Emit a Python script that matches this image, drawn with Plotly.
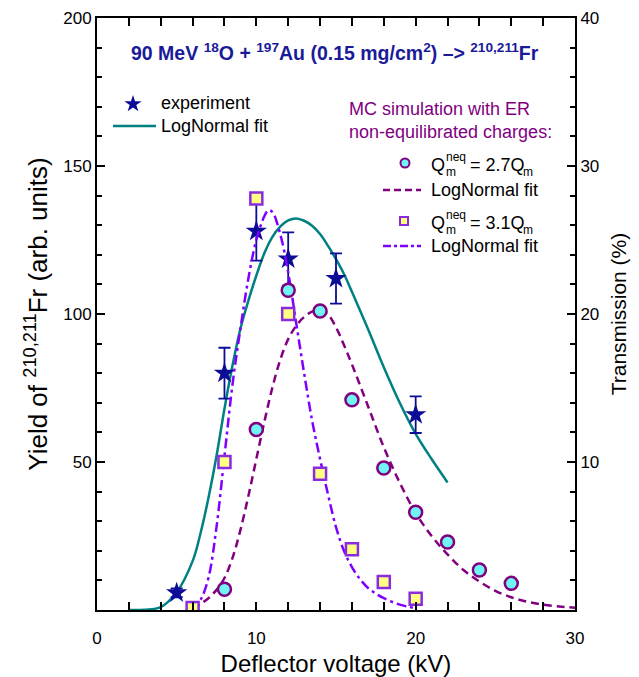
import plotly.graph_objects as go

# ---------------- data ----------------
exp_x = [5, 8, 10, 12, 15, 20]
exp_y = [5.8, 80, 128, 118.6, 112, 66]
exp_err = [1.5, 8.6, 10, 9, 8.5, 6.2]

# LogNormal fit to experiment (yield, left axis)
fit_exp_x = [2.0, 3.0, 4.0, 5.0, 6.0, 6.5, 7.0, 7.5, 8.0, 8.5, 9.0, 9.5, 10.0, 10.5, 11.0, 11.5, 12.0, 12.5,
             13.0, 13.5, 14.0, 14.5, 15.0, 15.5, 16.0, 17.0, 18.0, 19.0, 20.0, 21.0, 22.0]
fit_exp_y = [0, 0.1, 1.0, 6.0, 16.5, 26, 38, 52, 68, 82.5, 95, 104.5, 113, 120.5, 126, 129.5, 131.6, 132.3,
             131.5, 129.8, 127, 123, 118.5, 113.5, 107.5, 95, 82, 70, 59.5, 51, 43.1]

# MC simulation Q = 2.7 Qm (transmission %, right axis)
mc27_x = [8, 10, 12, 14, 16, 18, 20, 22, 24, 26]
mc27_y = [1.4, 12.2, 21.6, 20.2, 14.2, 9.6, 6.6, 4.6, 2.7, 1.8]
fit27_x = [6.0, 6.5, 7.0, 7.5, 8.0, 8.5, 9.0, 9.5, 10.0, 10.5, 11.0, 11.5, 12.0, 12.5, 13.0, 13.5, 14.0, 14.5,
           15.0, 15.5, 16.0, 17.0, 18.0, 19.0, 20.0, 21.0, 22.0, 23.0, 24.0, 25.0, 26.0, 27.0, 28.0, 29.0, 30.0]
fit27_y = [0.06, 0.4, 0.8, 1.36, 2.16, 3.5, 5.4, 7.7, 10.2, 12.7, 15.0, 16.9, 18.3, 19.2, 19.8, 20.16, 20.26, 19.96,
           19.1, 17.9, 16.6, 13.8, 11.0, 8.6, 6.56, 5.0, 3.76, 2.7, 1.92, 1.3, 0.86, 0.56, 0.36, 0.24, 0.16]

# MC simulation Q = 3.1 Qm (transmission %, right axis)
mc31_x = [6, 8, 10, 12, 14, 16, 18, 20]
mc31_y = [0.14, 10.0, 27.8, 20.0, 9.2, 4.1, 1.9, 0.76]
fit31_x = [5.9, 6.5, 7.0, 7.5, 8.0, 8.5, 9.0, 9.5, 10.0, 10.5, 10.75, 11.0, 11.5, 12.0, 12.5, 13.0, 13.5, 14.0,
           14.5, 15.0, 15.5, 16.0, 16.5, 17.0, 17.5, 18.0, 19.0, 20.0]
fit31_y = [0.0, 0.7, 2.2, 5.6, 10.4, 15.2, 19.0, 22.4, 25.0, 26.6, 27.0, 26.9, 25.4, 22.8, 19.4, 16.0, 12.8, 10.2,
           7.8, 5.6, 4.0, 2.9, 2.1, 1.5, 1.1, 0.8, 0.36, 0.12]

x_ticks = [0, 10, 20, 30]
y_ticks = [50, 100, 150, 200]
y2_ticks = [10, 20, 30, 40]

# ---------------- style ----------------
NAVY = "#0c0c96"
TEAL = "#008080"
PURPLE = "#800080"
VIOLET = "#8a2be2"
VIOLET_LINE = "#8000ff"
CYAN = "#70f4f4"
YELLOW = "#ffff80"
FONT = "Liberation Sans, Arial, sans-serif"

W, H = 639, 677
L, R, T, B = 97, 64, 18, 67
PW, PH = W - L - R, H - T - B


def px(x):
    return (x - L) / PW


def py(y):
    return (H - B - y) / PH


fig = go.Figure()

fig.add_trace(go.Scatter(x=fit_exp_x, y=fit_exp_y, mode="lines",
                         line=dict(color=TEAL, width=2.5, shape="spline", smoothing=1.0),
                         xaxis="x", yaxis="y", hoverinfo="skip"))
fig.add_trace(go.Scatter(x=exp_x, y=exp_y, mode="markers",
                         marker=dict(symbol="star", size=16, color=NAVY, line=dict(width=0)),
                         error_y=dict(type="data", array=exp_err, color=NAVY, thickness=1.8, width=6),
                         xaxis="x", yaxis="y"))
fig.add_trace(go.Scatter(x=fit27_x, y=fit27_y, mode="lines",
                         line=dict(color=PURPLE, width=2.5, dash="8px,5px", shape="spline", smoothing=1.0),
                         xaxis="x", yaxis="y2", hoverinfo="skip"))
fig.add_trace(go.Scatter(x=fit31_x, y=fit31_y, mode="lines",
                         line=dict(color=VIOLET_LINE, width=2.5, dash="10px,4px,3px,4px", shape="spline", smoothing=1.0),
                         xaxis="x", yaxis="y2", hoverinfo="skip"))
fig.add_trace(go.Scatter(x=mc27_x, y=mc27_y, mode="markers",
                         marker=dict(symbol="circle", size=13, color=CYAN, line=dict(color=PURPLE, width=2.5)),
                         xaxis="x", yaxis="y2"))
fig.add_trace(go.Scatter(x=mc31_x, y=mc31_y, mode="markers",
                         marker=dict(symbol="square", size=12, color=YELLOW, line=dict(color=VIOLET, width=2.5)),
                         xaxis="x", yaxis="y2"))

# legend symbols on a hidden overlay axis (0..1 coordinates of the plot area)
fig.add_trace(go.Scatter(x=[px(133)], y=[py(104)], mode="markers",
                         marker=dict(symbol="star", size=13, color=NAVY), xaxis="x3", yaxis="y3", hoverinfo="skip"))
fig.add_trace(go.Scatter(x=[px(113), px(156)], y=[py(126), py(126)], mode="lines",
                         line=dict(color=TEAL, width=2.5), xaxis="x3", yaxis="y3", hoverinfo="skip"))
fig.add_trace(go.Scatter(x=[px(405)], y=[py(163)], mode="markers",
                         marker=dict(symbol="circle", size=9, color=CYAN, line=dict(color=PURPLE, width=2)),
                         xaxis="x3", yaxis="y3", hoverinfo="skip"))
fig.add_trace(go.Scatter(x=[px(383), px(421)], y=[py(190), py(190)], mode="lines",
                         line=dict(color=PURPLE, width=2.5, dash="7px,4px"), xaxis="x3", yaxis="y3", hoverinfo="skip"))
fig.add_trace(go.Scatter(x=[px(404)], y=[py(221)], mode="markers",
                         marker=dict(symbol="square", size=8, color=YELLOW, line=dict(color=VIOLET, width=2)),
                         xaxis="x3", yaxis="y3", hoverinfo="skip"))
fig.add_trace(go.Scatter(x=[px(383), px(421)], y=[py(246), py(246)], mode="lines",
                         line=dict(color=VIOLET_LINE, width=2.5, dash="8px,3px,3px,3px"), xaxis="x3", yaxis="y3",
                         hoverinfo="skip"))

annotations = []


def txt(x, y, s, size=18, color="black", anchor="left", bold=False):
    annotations.append(dict(x=px(x), y=py(y), xref="paper", yref="paper", text=("<b>%s</b>" % s) if bold else s,
                            showarrow=False, xanchor=anchor, yanchor="middle",
                            font=dict(family=FONT, size=size, color=color)))


txt(335, 52, "90 MeV <sup>18</sup>O + <sup>197</sup>Au (0.15 mg/cm<sup>2</sup>) \u2013> <sup>210,211</sup>Fr",
    size=19.5, color="#1a1a99", anchor="center", bold=True)
txt(159, 103, "experiment")
txt(159, 126, "LogNormal fit")
txt(347, 109, "MC simulation with ER", color=PURPLE)
txt(347, 132, "non-equilibrated charges:", color=PURPLE)
for yy, val in [(165, "= 2.7Q"), (223, "= 3.1Q")]:
    txt(429, yy, "Q")
    txt(444, yy - 8, "neq", size=12)
    txt(444, yy + 7, "m", size=12)
    txt(468, yy, val)
    txt(521, yy + 7, "m", size=12)
txt(429, 190, "LogNormal fit")
txt(429, 246, "LogNormal fit")

tickfont = dict(family=FONT, size=17, color="black")

fig.update_layout(
    width=W, height=H,
    margin=dict(l=L, r=R, t=T, b=B, autoexpand=False),
    paper_bgcolor="white", plot_bgcolor="white",
    showlegend=False,
    annotations=annotations,
    xaxis=dict(range=[0, 30], tickvals=x_ticks, ticks="inside", ticklen=8, tickwidth=2, tickcolor="black",
               minor=dict(dtick=2, ticks="inside", ticklen=5, tickwidth=1.5, tickcolor="black"),
               showline=True, linewidth=2, linecolor="black", mirror="allticks", showgrid=False, zeroline=False,
               tickfont=tickfont, ticklabelstandoff=12, automargin=False,
               title=dict(text="Deflector voltage (kV)", font=dict(family=FONT, size=24, color="black"), standoff=9)),
    yaxis=dict(range=[0, 200], tickvals=y_ticks, ticks="inside", ticklen=8, tickwidth=2, tickcolor="black",
               minor=dict(dtick=10, ticks="inside", ticklen=5, tickwidth=1.5, tickcolor="black"),
               showline=True, linewidth=2, linecolor="black", showgrid=False, zeroline=False,
               tickfont=tickfont, automargin=False,
               title=dict(text="Yield of <sup>210,211</sup>Fr (arb. units)",
                          font=dict(family=FONT, size=26, color="black"), standoff=8)),
    yaxis2=dict(range=[0, 40], tickvals=y2_ticks, overlaying="y", side="right", ticks="inside", ticklen=8,
                tickwidth=2, tickcolor="black",
                minor=dict(dtick=2, ticks="inside", ticklen=5, tickwidth=1.5, tickcolor="black"),
                showline=True, linewidth=2, linecolor="black", showgrid=False, zeroline=False,
                tickfont=tickfont, automargin=False,
                title=dict(text="Transmission (%)", font=dict(family=FONT, size=21, color="black"), standoff=13)),
    xaxis3=dict(range=[0, 1], overlaying="x", visible=False, fixedrange=True),
    yaxis3=dict(range=[0, 1], overlaying="y", visible=False, fixedrange=True),
)

fig.write_html("out.html")
